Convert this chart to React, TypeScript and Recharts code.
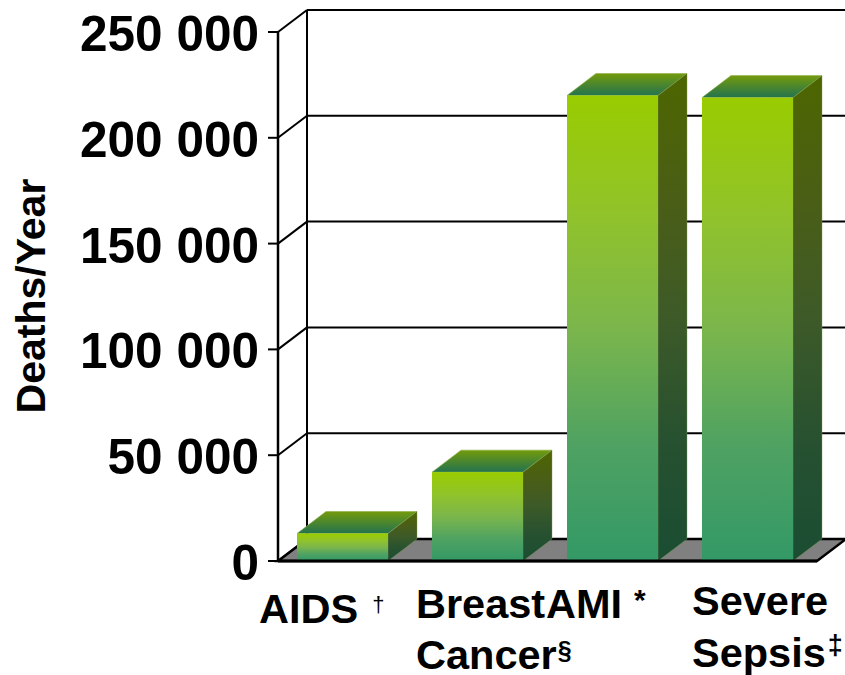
import { BarChart, Bar, XAxis, YAxis, CartesianGrid, Label } from "recharts";

const categories = ["AIDS", "Breast Cancer", "AMI", "Severe Sepsis"];
const deaths = [13000, 42000, 220000, 219000];
const yTicks = [0, 50000, 100000, 150000, 200000, 250000];
const yTickLabels = ["0", "50 000", "100 000", "150 000", "200 000", "250 000"];
const footnoteMarks = ["†", "§", "*", "‡"];

const data = categories.map((name, i) => ({ name, deaths: deaths[i], mark: footnoteMarks[i] }));

// how far the 3D box goes back into the page
const DEPTH_X = 29;
const DEPTH_Y = 22;
const PLOT_W = 539;
const PLOT_H = 529;
const FONT = "'Liberation Sans', Arial, sans-serif";

// hand placed x axis labels, they are not centred in the original
const labelLayout = [
  { left: -83.5, baselines: [54], markGap: 14, markSize: 22, markDy: -11 },
  { left: -61.5, baselines: [49, 100], markGap: 1, markSize: 25, markDy: -10 },
  { left: -66.5, baselines: [49], markGap: 12, markSize: 30, markDy: -8 },
  { left: -55.5, baselines: [46, 98], markGap: 2, markSize: 27, markDy: -13 },
];

const Box3D = (props: any) => {
  const { x, y, width, height } = props;
  const r = x + width;
  const b = y + height;
  return (
    <g>
      <polygon
        points={`${x},${y} ${x + DEPTH_X},${y - DEPTH_Y} ${r + DEPTH_X},${y - DEPTH_Y} ${r},${y}`}
        fill="url(#boxTop)"
        stroke="#8fae4a"
        strokeWidth={0.6}
      />
      <polygon
        points={`${r},${y} ${r + DEPTH_X},${y - DEPTH_Y} ${r + DEPTH_X},${b - DEPTH_Y} ${r},${b}`}
        fill="url(#boxSide)"
        stroke="#7f9a50"
        strokeWidth={0.4}
      />
      <rect x={x} y={y} width={width} height={height} fill="url(#boxFront)" />
    </g>
  );
};

const ValueTick = (props: any) => {
  const { x, y, payload } = props;
  return (
    <text
      x={x - 7}
      y={y + 19}
      textAnchor="end"
      fontFamily={FONT}
      fontWeight="bold"
      fontSize={49.5}
      fill="#000"
      xmlSpace="preserve"
    >
      {yTickLabels[yTicks.indexOf(payload.value)]}
    </text>
  );
};

const CategoryTick = (props: any) => {
  const { x, y, index } = props;
  const layout = labelLayout[index];
  const lines = categories[index].split(" ");
  const tx = x + layout.left;
  return (
    <text fontFamily={FONT} fontWeight="bold" fontSize={41.5} fill="#000">
      {lines.map((line, i) => (
        <tspan key={line} x={tx} y={y + layout.baselines[i]}>
          {line}
          {i === lines.length - 1 && (
            <tspan
              dx={layout.markGap}
              dy={layout.markDy}
              fontSize={layout.markSize}
              fontWeight={index === 0 ? "normal" : "bold"}
            >
              {footnoteMarks[index]}
            </tspan>
          )}
        </tspan>
      ))}
    </text>
  );
};

// grid lines sit on the back wall, so shift them up and right.
// the zero line also brings the floor, the left wall edge and the back corner
const BackWallLine = (props: any) => {
  const { x1, x2, y1, y2 } = props;
  const isFloor = Math.abs(y1 - (32 + PLOT_H)) < 1;
  return (
    <g>
      {isFloor && (
        <>
          <polygon
            points={`${x1},${y1} ${x1 + DEPTH_X},${y1 - DEPTH_Y} ${x1 + PLOT_W + DEPTH_X},${y1 - DEPTH_Y} ${x1 + PLOT_W},${y1}`}
            fill="#808080"
            stroke="#000"
            strokeWidth={2.5}
          />
          <line
            x1={x1 + DEPTH_X}
            x2={x1 + DEPTH_X}
            y1={y1 - DEPTH_Y}
            y2={y1 - DEPTH_Y - PLOT_H}
            stroke="#000"
            strokeWidth={2}
          />
        </>
      )}
      <line x1={x1} y1={y1} x2={x1 + DEPTH_X} y2={y1 - DEPTH_Y} stroke="#000" strokeWidth={2} />
      <line
        x1={x1 + DEPTH_X}
        x2={x2 + DEPTH_X}
        y1={y1 - DEPTH_Y}
        y2={y2 - DEPTH_Y}
        stroke="#000"
        strokeWidth={2}
      />
    </g>
  );
};

export default function App() {
  return (
    <div style={{ width: 845, height: 675, background: "#fff" }}>
      <style>{"body{margin:0}"}</style>
      <BarChart
        width={845}
        height={675}
        data={data}
        margin={{ top: 32, right: 28, bottom: 0, left: 0 }}
        barCategoryGap={0}
      >
        <defs>
          <linearGradient id="boxFront" x1="0" y1="0" x2="0" y2="1">
            <stop offset="0%" stopColor="#99cc00" />
            <stop offset="25%" stopColor="#91c32a" />
            <stop offset="50%" stopColor="#7bb64c" />
            <stop offset="75%" stopColor="#4fa262" />
            <stop offset="100%" stopColor="#339966" />
          </linearGradient>
          <linearGradient id="boxSide" x1="0" y1="0" x2="0" y2="1">
            <stop offset="0%" stopColor="#4d6600" />
            <stop offset="25%" stopColor="#4a5e15" />
            <stop offset="50%" stopColor="#3d5a28" />
            <stop offset="75%" stopColor="#275130" />
            <stop offset="100%" stopColor="#1a4d33" />
          </linearGradient>
          <linearGradient id="boxTop" x1="0" y1="0" x2="0" y2="1">
            <stop offset="0%" stopColor="#739a0c" />
            <stop offset="100%" stopColor="#23734f" />
          </linearGradient>
        </defs>
        <CartesianGrid vertical={false} horizontal={BackWallLine} stroke="#000" />
        <XAxis
          dataKey="name"
          interval={0}
          height={114}
          padding={{ left: -3, right: 2 }}
          axisLine={{ stroke: "#000", strokeWidth: 3 }}
          tickLine={false}
          tick={CategoryTick}
        />
        <YAxis
          domain={[0, 250000]}
          ticks={yTicks}
          width={278}
          interval={0}
          axisLine={{ stroke: "#000", strokeWidth: 2.5 }}
          tickLine={{ stroke: "#000", strokeWidth: 2 }}
          tickSize={10}
          tick={ValueTick}
        >
          <Label
            content={() => (
              <text
                transform="translate(45 296) rotate(-90)"
                textAnchor="middle"
                fontFamily={FONT}
                fontWeight="bold"
                fontSize={41}
                fill="#000"
              >
                Deaths/Year
              </text>
            )}
          />
        </YAxis>
        <Bar dataKey="deaths" barSize={91} shape={Box3D} isAnimationActive={false} />
      </BarChart>
    </div>
  );
}
